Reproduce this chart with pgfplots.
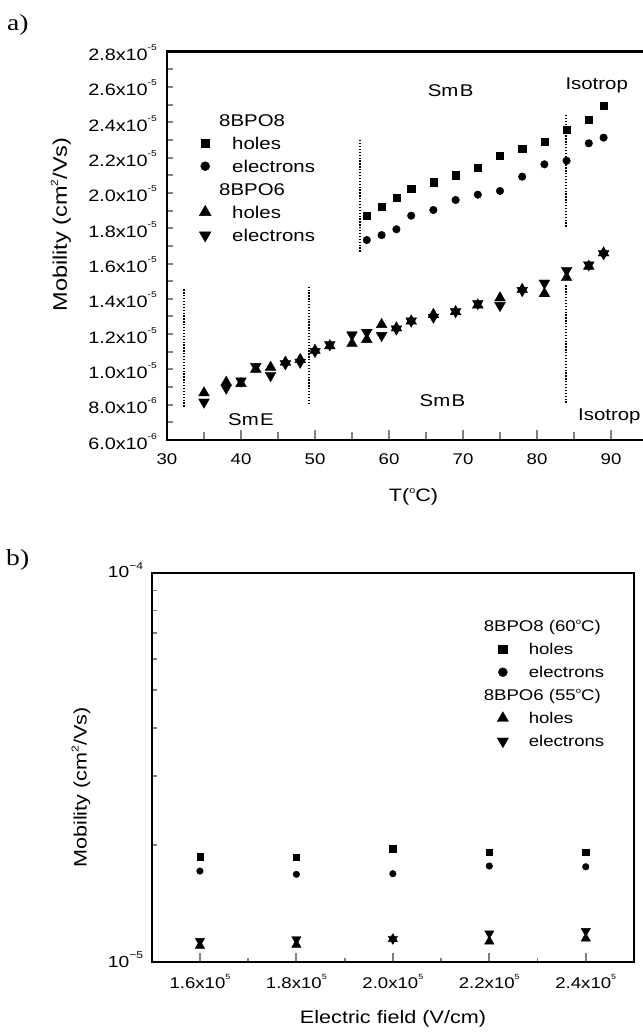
\documentclass[border=0pt]{standalone}
\usepackage{fontspec}
\setmainfont{Liberation Sans}[FakeStretch=1.2]
\newfontfamily\seriffont{Liberation Serif}[FakeStretch=1.2]
\usepackage{pgfplots}
\pgfplotsset{compat=1.18}
\newcommand\fs[1]{\fontsize{#1}{#1}\selectfont}
\newcommand\up[3]{\raisebox{#1}{\fontsize{#2}{#2}\selectfont #3}}
\newcommand\ys[1]{\up{10pt}{8.5}{#1}}
\newcommand\xs[1]{\up{9.5pt}{7.5}{#1}}
\begin{document}
\begin{tikzpicture}[x=1pt,y=1pt,every node/.style={inner sep=0pt}]
\useasboundingbox (0,0) rectangle (642,-1032);
% ---------------- top panel ----------------
\begin{axis}[
  at={(167pt,-440pt)}, anchor=south west, scale only axis,
  width=481pt, height=388.3pt,
  xmin=30, xmax=95, ymin=6e-6, ymax=2.8e-5,
  scaled x ticks=false, scaled y ticks=false,
  xtick={30,40,50,60,70,80,90},
  xticklabels={30,40,50,60,70,80,90},
  minor xtick={35,45,55,65,75,85},
  ytick={6e-6,8e-6,1e-5,1.2e-5,1.4e-5,1.6e-5,1.8e-5,2e-5,2.2e-5,2.4e-5,2.6e-5,2.8e-5},
  yticklabels={6.0x10\ys{-6},8.0x10\ys{-6},1.0x10\ys{-5},1.2x10\ys{-5},1.4x10\ys{-5},1.6x10\ys{-5},1.8x10\ys{-5},2.0x10\ys{-5},2.2x10\ys{-5},2.4x10\ys{-5},2.6x10\ys{-5},2.8x10\ys{-5}},
  minor ytick={7e-6,9e-6,1.1e-5,1.3e-5,1.5e-5,1.7e-5,1.9e-5,2.1e-5,2.3e-5,2.5e-5,2.7e-5},
  xtick pos=left, ytick pos=left,
  axis line style={line width=2.4pt},
  xtick style={line width=2pt,/pgfplots/major tick length=10pt,/pgfplots/minor tick length=8pt},
  ytick style={line width=2pt,/pgfplots/major tick length=6pt,/pgfplots/minor tick length=6pt},
  xticklabel style={font=\fs{15.5},anchor=base,yshift=-24.6pt,inner sep=0pt},
  yticklabel style={font=\fs{16.5},anchor=base east,xshift=-10pt,yshift=-9pt,inner sep=0pt},
  legend style={draw=none,fill=none,at={(0.0582,0.8589)},anchor=north west,
    font=\fs{17},nodes={inner sep=0pt,text height=17.5pt,text depth=5.5pt},
    column sep=20pt,row sep=0pt},
  legend cell align=left,
  legend image code/.code={\path[draw=none] (-7pt,0pt) -- (7pt,0pt); \draw[#1] plot coordinates {(0pt,0pt)};},
]
% phase boundaries
\addplot[forget plot,black,line width=1.4pt,dash pattern=on 1.3pt off 1.6pt] coordinates {(32.3,7.89e-6) (32.3,14.54e-6)};
\addplot[forget plot,black,line width=1.4pt,dash pattern=on 1.3pt off 1.6pt] coordinates {(49.2,8.04e-6) (49.2,14.69e-6)};
\addplot[forget plot,black,line width=1.4pt,dash pattern=on 1.3pt off 1.6pt] coordinates {(83.9,8.11e-6) (83.9,14.78e-6)};
\addplot[forget plot,black,line width=1.4pt,dash pattern=on 1.3pt off 1.6pt] coordinates {(56.1,16.67e-6) (56.1,23.0e-6)};
\addplot[forget plot,black,line width=1.4pt,dash pattern=on 1.3pt off 1.6pt] coordinates {(83.9,18.09e-6) (83.9,24.41e-6)};
% 8BPO8 holes
\addplot[forget plot,only marks,mark=square*,mark size=3.65pt,black] coordinates {
(57,18.71e-6) (59,19.22e-6) (61,19.73e-6) (63,20.22e-6) (66,20.60e-6) (69,21.01e-6) (72,21.43e-6)
(75,22.11e-6) (78,22.50e-6) (81,22.90e-6) (84,23.60e-6) (87,24.13e-6) (89,24.94e-6)};
% 8BPO8 electrons
\addplot[forget plot,only marks,mark=*,mark size=3.8pt,black] coordinates {
(57,17.33e-6) (59,17.61e-6) (61,17.94e-6) (63,18.71e-6) (66,19.03e-6) (69,19.60e-6) (72,19.90e-6)
(75,20.11e-6) (78,20.92e-6) (81,21.62e-6) (84,21.82e-6) (87,22.81e-6) (89,23.13e-6)};
% 8BPO6 holes
\addplot[forget plot,only marks,mark=triangle*,mark size=6.2pt,black] coordinates {
(35,8.67e-6) (38,9.27e-6) (40,9.20e-6) (42,10.01e-6) (44,10.12e-6) (46,10.41e-6) (48,10.56e-6)
(50,11.08e-6) (52,11.34e-6) (55,11.46e-6) (57,11.69e-6) (59,12.54e-6) (61,12.35e-6) (63,12.74e-6)
(66,13.11e-6) (69,13.27e-6) (72,13.65e-6) (75,14.05e-6) (78,14.53e-6) (81,14.29e-6) (84,15.20e-6)
(87,15.84e-6) (89,16.60e-6)};
% 8BPO6 electrons
\addplot[forget plot,only marks,mark=triangle*,mark size=6.2pt,mark options={rotate=180},black] coordinates {
(35,8.15e-6) (38,8.94e-6) (40,9.35e-6) (42,10.17e-6) (44,9.65e-6) (46,10.32e-6) (48,10.41e-6)
(50,11.02e-6) (52,11.40e-6) (55,11.96e-6) (57,12.10e-6) (59,11.92e-6) (61,12.29e-6) (63,12.74e-6)
(66,12.96e-6) (69,13.27e-6) (72,13.73e-6) (75,13.62e-6) (78,14.47e-6) (81,14.89e-6) (84,15.61e-6)
(87,15.92e-6) (89,16.55e-6)};
\addlegendimage{empty legend}\addlegendentry{\hspace*{-13pt}8BPO8}
\addlegendimage{only marks,mark=square*,mark size=4.2pt,black}\addlegendentry{holes}
\addlegendimage{only marks,mark=*,mark size=4.5pt,black}\addlegendentry{electrons}
\addlegendimage{empty legend}\addlegendentry{\hspace*{-13pt}8BPO6}
\addlegendimage{only marks,mark=triangle*,mark size=6.8pt,black}\addlegendentry{holes}
\addlegendimage{only marks,mark=triangle*,mark size=6.8pt,mark options={rotate=180},black}\addlegendentry{electrons}
\end{axis}
% ---------------- bottom panel ----------------
\begin{axis}[
  at={(151.7pt,-962pt)}, anchor=south west, scale only axis,
  width=482.3pt, height=389.3pt,
  xmin=1.5e5, xmax=2.5e5, ymode=log, ymin=1e-5, ymax=1e-4,
  scaled x ticks=false,
  xtick={1.6e5,1.8e5,2.0e5,2.2e5,2.4e5},
  xticklabels={1.6x10\xs{5},1.8x10\xs{5},2.0x10\xs{5},2.2x10\xs{5},2.4x10\xs{5}},
  minor xtick={1.7e5,1.9e5,2.1e5,2.3e5},
  ytick={1e-5,1e-4},
  yticklabels={10\up{8.5pt}{10}{−5},10\up{8.5pt}{10}{−4}},
  minor ytick={2e-5,3e-5,4e-5,5e-5,6e-5,7e-5,8e-5,9e-5},
  xtick pos=left, ytick pos=left,
  axis line style={line width=2pt},
  xtick style={line width=1.8pt,/pgfplots/major tick length=9pt,/pgfplots/minor tick length=4.5pt},
  ytick style={line width=1.8pt,/pgfplots/major tick length=5pt,/pgfplots/minor tick length=5pt},
  xticklabel style={font=\fs{15.5},anchor=base,yshift=-26.5pt,inner sep=0pt},
  yticklabel style={font=\fs{16},anchor=base east,xshift=-8.5pt,yshift=-5pt,inner sep=0pt},
  legend style={draw=none,fill=none,at={(0.707,0.8978)},anchor=north west,
    font=\fs{15.5},nodes={inner sep=0pt,text height=17.1pt,text depth=5.9pt},
    column sep=18.9pt,row sep=0pt},
  legend cell align=left,
  legend image code/.code={\path[draw=none] (-7pt,0pt) -- (7pt,0pt); \draw[#1] plot coordinates {(0pt,0pt)};},
]
\addplot[forget plot,only marks,mark=square*,mark size=3.2pt,black] coordinates {
(1.6e5,1.864e-5) (1.8e5,1.857e-5) (2.0e5,1.954e-5) (2.2e5,1.913e-5) (2.4e5,1.917e-5)};
\addplot[forget plot,only marks,mark=*,mark size=3.3pt,black] coordinates {
(1.6e5,1.713e-5) (1.8e5,1.680e-5) (2.0e5,1.686e-5) (2.2e5,1.765e-5) (2.4e5,1.757e-5)};
\addplot[forget plot,only marks,mark=triangle*,mark size=5.4pt,black] coordinates {
(1.6e5,1.102e-5) (1.8e5,1.108e-5) (2.0e5,1.146e-5) (2.2e5,1.130e-5) (2.4e5,1.150e-5)};
\addplot[forget plot,only marks,mark=triangle*,mark size=5.4pt,mark options={rotate=180},black] coordinates {
(1.6e5,1.132e-5) (1.8e5,1.143e-5) (2.0e5,1.146e-5) (2.2e5,1.184e-5) (2.4e5,1.201e-5)};
\addlegendimage{empty legend}\addlegendentry{\hspace*{-45pt}8BPO8 (60\up{7pt}{8}{o}C)}
\addlegendimage{only marks,mark=square*,mark size=4.2pt,black}\addlegendentry{holes}
\addlegendimage{only marks,mark=*,mark size=4.5pt,black}\addlegendentry{electrons}
\addlegendimage{empty legend}\addlegendentry{\hspace*{-45pt}8BPO6 (55\up{7pt}{8}{o}C)}
\addlegendimage{only marks,mark=triangle*,mark size=6.5pt,black}\addlegendentry{holes}
\addlegendimage{only marks,mark=triangle*,mark size=6.5pt,mark options={rotate=180},black}\addlegendentry{electrons}
\end{axis}
% ---------------- texts ----------------
\node[font=\seriffont\fs{23},anchor=base west] at (7,-31) {a)};
\node[font=\seriffont\fs{23},anchor=base west] at (6,-565) {b)};
\node[font=\fs{19.6},rotate=90] at (61,-224.5) {Mobility (cm\up{9pt}{10}{2}/Vs)};
\node[font=\fs{18},anchor=base] at (413.5,-501) {T(\up{8pt}{9}{o}C)};
\node[font=\fs{17},anchor=base] at (450.7,-96.7) {Sm\kern1.5pt B};
\node[font=\fs{17},anchor=base] at (596.7,-89.3) {Isotrop};
\node[font=\fs{17},anchor=base] at (251,-425) {Sm\kern1.5pt E};
\node[font=\fs{17},anchor=base] at (442.5,-406.7) {Sm\kern1.5pt B};
\node[font=\fs{17},anchor=base west] at (578,-420) {Isotrop};
\node[font=\fs{18},rotate=90] at (81,-787.5) {Mobility (cm\up{8pt}{10}{2}/Vs)};
\node[font=\fs{18},anchor=base] at (393,-1023) {Electric field (V/cm)};
\end{tikzpicture}
\end{document}
